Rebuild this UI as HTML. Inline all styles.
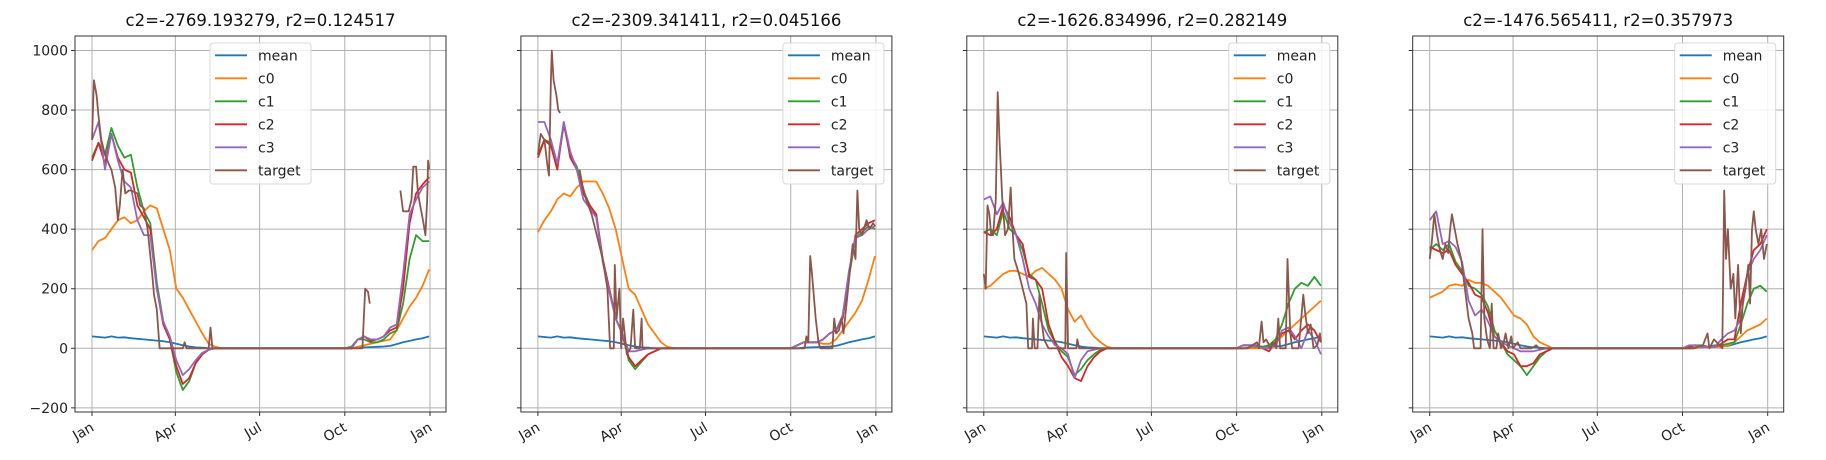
<!DOCTYPE html>
<html><head><meta charset="utf-8">
<style>
html,body{margin:0;padding:0;background:#fff;}
svg{display:block;font-family:"DejaVu Sans","Liberation Sans",sans-serif;}
</style></head>
<body>
<svg id="fig" width="1826" height="460" viewBox="0 0 1826 460" xmlns="http://www.w3.org/2000/svg"></svg>
<script>
// ---- data ----
const weekDays = Array.from({length:53},(_,i)=>i*7);
const monthTicks = [0,90,181,273,365];
const monthLabels = ["Jan","Apr","Jul","Oct","Jan"];
const yTicks = [-200,0,200,400,600,800,1000];
const seriesNames = ["mean","c0","c1","c2","c3","target"];
const titles = ["c2=-2769.193279, r2=0.124517","c2=-2309.341411, r2=0.045166","c2=-1626.834996, r2=0.282149","c2=-1476.565411, r2=0.357973"];
const meanP = [40,38,36,40,36,37,34,32,30,28,26,24,20,15,10,6,3,2].concat(Array(23).fill(0),[2,3,4,5,6,8,14,20,25,30,34,40]);
const p1_c0 = [330,360,370,400,430,440,420,430,460,480,470,400,330,200,170,130,90,50,15,5].concat(Array(21).fill(0),[5,10,15,20,25,30,60,100,140,170,210,265]);
const p1_c1 = [640,690,650,740,680,640,650,540,460,420,220,90,30,-80,-140,-110,-50,-20,-5].concat(Array(21).fill(0),[5,30,30,20,20,30,50,60,150,300,380,360,360]);
const p1_c2 = [630,690,620,720,640,600,590,480,440,400,200,80,30,-60,-120,-100,-50,-20,-5].concat(Array(22).fill(0),[30,40,25,30,40,60,70,200,420,520,550,575]);
const p1_c3 = [700,760,600,720,630,560,540,430,380,380,200,90,40,-40,-90,-70,-40,-15,-5].concat(Array(22).fill(0),[30,40,30,30,40,70,80,250,450,500,540,560]);
const p1_tDays = [0,2,5,7,10,14,18,21,25,28,30,33,36,40,42,49,52,56,60,65,67,70,73,98,100,102,126,128,130,285,287,292,295,298,300,301,333,336,342,345,347,350,352,355,358,360,362,363,364];
const p1_tVals = [700,900,850,780,700,650,620,600,540,430,480,600,520,530,530,520,480,470,400,250,180,130,0,0,20,0,0,70,0,0,0,0,200,190,150,null,530,460,460,500,610,610,520,470,420,380,500,630,600];
const p2_c0 = [390,430,460,500,520,510,540,560,560,560,520,470,400,300,200,180,130,80,50,20,5].concat(Array(19).fill(0),[10,20,20,20,15,15,30,60,90,120,160,230,310]);
const p2_c1 = [650,700,690,610,750,650,610,530,480,450,300,200,100,50,-40,-70,-45,-20,-10].concat(Array(21).fill(0),[10,20,20,20,30,50,60,100,240,370,390,410,400]);
const p2_c2 = [640,700,680,600,760,640,600,520,480,450,300,200,100,50,-30,-60,-40,-20,-10].concat(Array(21).fill(0),[10,20,20,20,30,50,60,100,250,380,400,420,430]);
const p2_c3 = [760,760,700,620,760,660,600,500,470,440,290,190,100,50,-10,-10,-5,0,0].concat(Array(21).fill(0),[10,20,20,20,30,50,60,110,260,370,380,400,410]);
const p2_tDays = [0,3,7,10,12,14,15,17,20,22,24,25,45,48,52,58,62,66,70,75,78,82,83,85,88,90,92,96,100,103,105,110,112,113,288,290,292,294,296,300,303,305,318,320,322,325,328,330,335,340,343,345,347,350,355,358,362,364];
const p2_tVals = [650,720,700,620,580,900,1000,900,850,800,790,null,600,550,500,450,400,350,300,200,0,0,280,100,200,0,100,-20,0,130,0,0,100,0,0,40,20,310,250,100,20,0,0,100,50,60,100,50,200,350,300,530,400,380,430,400,420,410];
const p3_c0 = [200,210,230,250,260,260,250,240,260,270,250,230,200,130,90,110,70,40,20,5].concat(Array(24).fill(0),[10,20,40,60,80,100,120,140,160]);
const p3_c1 = [390,400,380,460,400,380,330,250,230,150,60,20,-10,-30,-90,-70,-40,-20,-5].concat(Array(21).fill(0),[10,10,10,5,10,30,80,150,200,220,210,240,210]);
const p3_c2 = [390,380,400,480,440,380,350,240,230,200,80,20,-30,-60,-100,-110,-60,-30,-10].concat(Array(21).fill(0),[10,10,10,0,-10,20,50,60,30,60,80,60,20]);
const p3_c3 = [500,510,450,490,420,380,300,200,150,80,40,10,0,-20,-100,-40,-10,-5].concat(Array(22).fill(0),[10,10,10,0,0,10,60,70,40,0,60,30,-20]);
const p3_tDays = [0,2,4,6,8,10,13,15,17,20,23,26,29,31,33,38,42,46,48,52,53,55,58,60,62,65,70,88,89,91,100,101,103,285,295,297,300,302,305,310,312,316,318,320,326,328,331,333,340,345,347,350,353,356,360,363,364];
const p3_tVals = [250,200,480,450,380,380,500,860,700,500,380,400,540,400,300,250,200,150,0,0,100,0,0,180,100,30,0,0,320,0,0,30,0,0,20,0,90,20,30,0,20,0,100,0,0,300,50,0,0,180,120,50,80,0,10,50,20];
const p4_c0 = [170,180,190,210,215,210,230,220,220,210,190,170,140,110,100,80,40,20,10].concat(Array(23).fill(0),[5,5,5,5,10,20,40,60,70,80,100,140]);
const p4_c1 = [330,350,330,350,290,260,210,200,180,140,60,20,-20,-40,-60,-90,-60,-30,-10].concat(Array(21).fill(0),[5,10,10,5,10,10,15,20,80,150,200,210,190]);
const p4_c2 = [340,330,320,330,280,250,220,180,170,120,40,20,-10,-20,-60,-60,-50,-20,-10].concat(Array(21).fill(0),[5,10,5,5,5,15,30,30,150,250,330,350,400]);
const p4_c3 = [430,460,350,360,340,290,160,110,130,90,40,20,10,0,-10,-10,-10,-5].concat(Array(22).fill(0),[10,10,5,5,5,30,50,60,100,250,300,330,380]);
const p4_tDays = [0,2,5,8,11,14,17,20,22,24,27,30,34,38,42,46,48,55,57,59,62,65,67,69,72,74,77,80,82,85,88,90,95,98,110,115,118,285,295,300,302,307,316,318,320,322,325,328,330,333,336,338,341,344,346,348,350,352,355,358,361,364];
const p4_tVals = [300,350,450,380,330,300,350,320,400,450,400,350,300,200,100,50,0,0,400,100,30,0,150,0,0,50,0,20,50,0,40,0,20,0,0,10,0,0,10,50,0,30,0,530,300,400,200,250,100,280,50,150,200,280,150,400,460,400,350,400,300,350];

const panels = [
 {c:[meanP,p1_c0,p1_c1,p1_c2,p1_c3], td:p1_tDays, tv:p1_tVals, legendCenter:true},
 {c:[meanP,p2_c0,p2_c1,p2_c2,p2_c3], td:p2_tDays, tv:p2_tVals},
 {c:[meanP,p3_c0,p3_c1,p3_c2,p3_c3], td:p3_tDays, tv:p3_tVals},
 {c:[meanP,p4_c0,p4_c1,p4_c2,p4_c3], td:p4_tDays, tv:p4_tVals}
];
const colors = ["#1f77b4","#ff7f0e","#2ca02c","#d62728","#9467bd","#8c564b"];

// ---- drawing ----
const NS="http://www.w3.org/2000/svg";
const svg=document.getElementById('fig');
function mk(tag,attrs,parent){const e=document.createElementNS(NS,tag);for(const k in attrs)e.setAttribute(k,attrs[k]);(parent||svg).appendChild(e);return e;}
const AX_T=36, AX_B=412, AX_W=371, PANEL_STEP=445.9, AX_L0=75;
const Y0=348.3, YS=0.2978;
function yPx(v){return Y0 - v*YS;}
panels.forEach((p,pi)=>{
  const L=AX_L0+pi*PANEL_STEP;
  const xPx=d=>L+17+d*(338/365);
  const g=mk('g',{});
  
  
  const clipId='clip'+pi;
  const cp=mk('clipPath',{id:clipId},g);
  mk('rect',{x:L,y:AX_T,width:AX_W,height:AX_B-AX_T},cp);
  const grid=mk('g',{},g);
  
  
  yTicks.forEach(t=>{mk('line',{x1:L,x2:L+AX_W,y1:yPx(t),y2:yPx(t),stroke:'#b0b0b0','stroke-width':1},grid);});
  monthTicks.forEach(d=>{mk('line',{x1:xPx(d),x2:xPx(d),y1:AX_T,y2:AX_B,stroke:'#b0b0b0','stroke-width':1},grid);});
  const lines=mk('g',{'clip-path':'url(#'+clipId+')'},g);
  p.c.forEach((arr,si)=>{
    const pts=arr.map((v,i)=>xPx(weekDays[i]).toFixed(1)+','+yPx(v).toFixed(1)).join(' ');
    const pl=mk('polyline',{points:pts,fill:'none',stroke:colors[si],'stroke-width':1.8,'stroke-linejoin':'round'},lines);
    
    
  });
  let d='',pen=false;
  p.td.forEach((day,i)=>{const v=p.tv[i];if(v===null){pen=false;return;}d+=(pen?'L':'M')+xPx(day).toFixed(1)+' '+yPx(v).toFixed(1)+' ';pen=true;});
  const tp=mk('path',{d:d,fill:'none',stroke:colors[5],'stroke-width':1.8,'stroke-linejoin':'round'},lines);
  
  
  const sp=mk('rect',{x:L,y:AX_T,width:AX_W,height:AX_B-AX_T,fill:'none',stroke:'#333','stroke-width':1},g);
  
  
  yTicks.forEach(t=>{
    mk('line',{x1:L-4,x2:L,y1:yPx(t),y2:yPx(t),stroke:'#333','stroke-width':1},g);
    if(pi===0){
      const tx=mk('text',{x:L-7,y:yPx(t)+5,'text-anchor':'end','font-size':14,fill:'#222'},g);
      tx.textContent=(t<0?'\u2212'+(-t):String(t));
      
      
    }
  });
  monthTicks.forEach((dd,i)=>{
    const x=xPx(dd);
    mk('line',{x1:x,x2:x,y1:AX_B,y2:AX_B+4,stroke:'#333','stroke-width':1},g);
    const tx=mk('text',{x:0,y:0,'text-anchor':'end','font-size':14,fill:'#222',transform:'translate('+(x+3)+','+(AX_B+18)+') rotate(-30)'},g);
    tx.textContent=monthLabels[i];
    
    
  });
  const ti=mk('text',{x:L+AX_W/2,y:26,'text-anchor':'middle','font-size':16.5,fill:'#111'},g);
  ti.textContent=titles[pi];
  
  
  const LW=101, LH=141;
  const lx=p.legendCenter ? L+AX_W/2-LW/2 : L+AX_W-LW-8;
  const ly=43;
  const lg=mk('g',{},g);
  
  
  mk('rect',{x:lx,y:ly,width:LW,height:LH,rx:3,fill:'#fff','fill-opacity':0.85,stroke:'#d8d8d8','stroke-width':1},lg);
  seriesNames.forEach((n,si)=>{
    const cy=ly+12.3+si*23;
    const e=mk('g',{},lg);
    
    
    mk('line',{x1:lx+5,x2:lx+37,y1:cy,y2:cy,stroke:colors[si],'stroke-width':1.8},e);
    const t=mk('text',{x:lx+48,y:cy+5,'font-size':14,fill:'#222'},e);
    t.textContent=n;
  });
});
</script>
</body></html>
